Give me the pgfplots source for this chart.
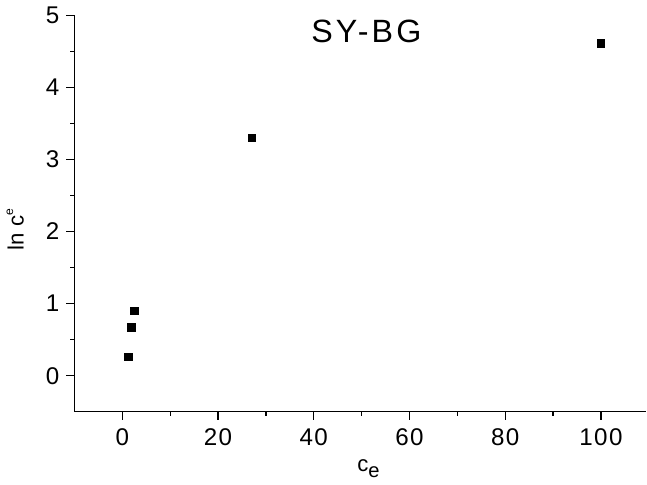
\documentclass[border=0pt]{standalone}
\usepackage{fontspec}
\setmainfont{Liberation Sans}
\newfontfamily\titlefont[LetterSpace=10]{Liberation Sans}
\newfontfamily\tickfont[LetterSpace=6]{Liberation Sans}
\usepackage{pgfplots}
\pgfplotsset{compat=1.18}

\begin{document}
\begin{tikzpicture}
  \begin{axis}[
    scale only axis,
    width=284pt, height=197pt,
    xmin=-10, xmax=109.5,
    ymin=-0.5, ymax=5,
    axis x line=bottom, axis y line=left,
    axis line style={-, line width=0.6pt},
    tick style={black, line width=0.6pt},
    tick align=outside,
    major tick length=4pt, minor tick length=2pt,
    xtick={0,20,...,100}, ytick={0,...,5},
    minor x tick num=1, minor y tick num=1,
    /pgf/number format/assume math mode=true,
    ticklabel style={font=\tickfont\fontsize{12}{14}\selectfont},
    xticklabel style={yshift=-1pt},
    xlabel={c\raisebox{-0.45ex}{\fontsize{10}{12}\selectfont e}},
    ylabel={ln c\raisebox{0.9ex}{\fontsize{6}{7}\selectfont e}},
    label style={font=\fontsize{11}{13}\selectfont},
    xlabel style={yshift=0pt, xshift=4pt},
    ylabel style={yshift=4pt, xshift=-8pt},
    clip=false,
  ]
    \addplot[only marks, mark=square*, mark size=1.9pt, black]
      coordinates {(1.3,0.26) (1.95,0.67) (2.46,0.90) (27.1,3.30) (100,4.605)};
    \node[font=\titlefont\fontsize{16}{18}\selectfont] at (axis cs:51,4.77) {SY-BG};
  \end{axis}
\end{tikzpicture}
\end{document}
